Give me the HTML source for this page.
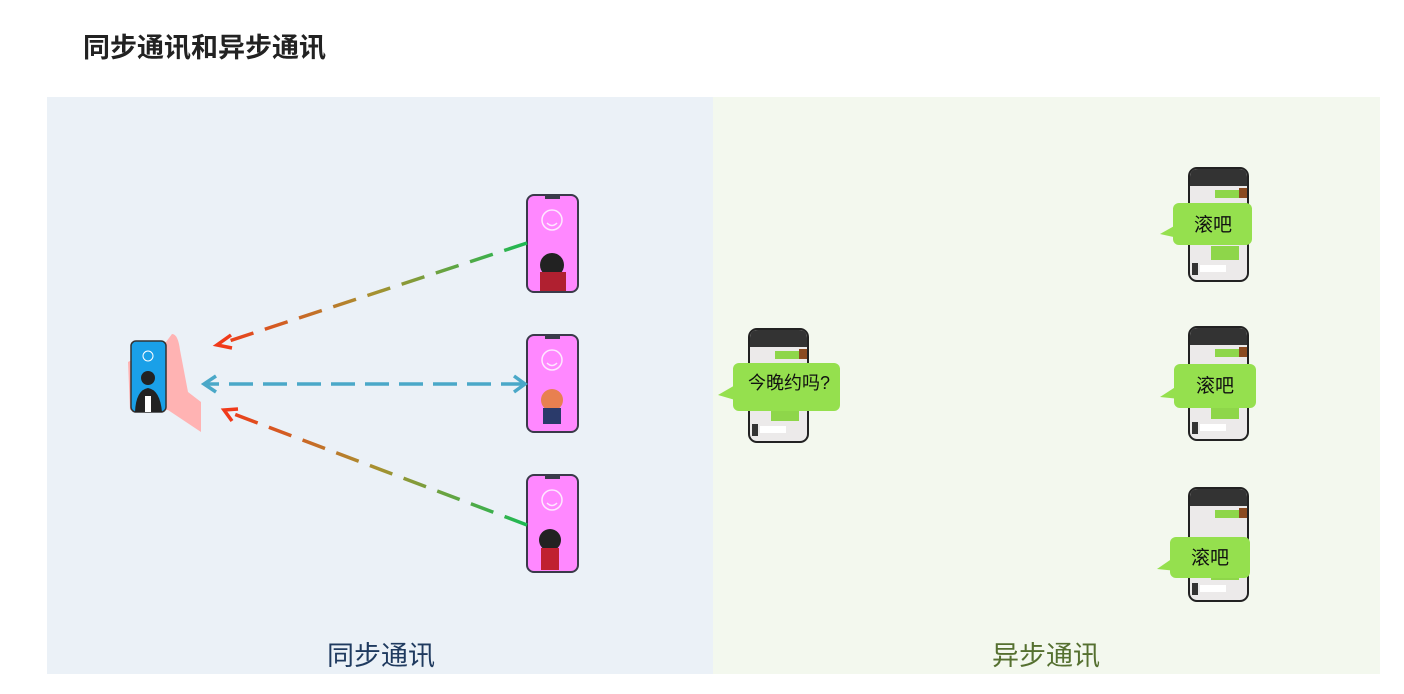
<!DOCTYPE html>
<html><head><meta charset="utf-8"><style>
html,body{margin:0;padding:0;background:#fff;width:1404px;height:694px;overflow:hidden}
svg{display:block}
text{font-family:"Liberation Sans","Noto Sans CJK SC",sans-serif}
</style></head><body>
<svg width="1404" height="694" viewBox="0 0 1404 694" xmlns="http://www.w3.org/2000/svg">
<defs>
<linearGradient id="g1" x1="527" y1="243" x2="216" y2="345" gradientUnits="userSpaceOnUse"><stop offset="0" stop-color="#1db954"/><stop offset="0.5" stop-color="#a89030"/><stop offset="1" stop-color="#f03a1a"/></linearGradient>
<linearGradient id="g2" x1="527" y1="525" x2="223" y2="410" gradientUnits="userSpaceOnUse"><stop offset="0" stop-color="#1db954"/><stop offset="0.5" stop-color="#a89030"/><stop offset="1" stop-color="#f03a1a"/></linearGradient>
<g id="pp">
<rect x="0" y="0" width="51" height="97" rx="7" fill="#ff88ff" stroke="#3a3a4a" stroke-width="2"/>
<rect x="18" y="0" width="15" height="4" fill="#3a3a4a"/>
<circle cx="25" cy="25" r="10" fill="none" stroke="#fff" stroke-width="1.5" opacity=".8"/>
<path d="M20 28 q5 5 10 0" fill="none" stroke="#fff" stroke-width="1.5" opacity=".8"/>
</g>
<g id="cp">
<rect x="0" y="0" width="59" height="113" rx="8" fill="#eceaea" stroke="#222" stroke-width="2"/>
<path d="M1 9 Q1 1 9 1 L50 1 Q58 1 58 9 L58 18 L1 18 Z" fill="#333"/>
<rect x="26" y="22" width="24" height="8" fill="#8ed64a"/>
<rect x="50" y="20" width="8" height="10" fill="#8a4a20"/>
<rect x="22" y="78" width="28" height="14" fill="#8ed64a"/>
<rect x="3" y="95" width="6" height="12" fill="#333"/>
<rect x="11" y="97" width="26" height="7" fill="#fff"/>
</g>
</defs>
<rect x="47" y="97" width="666" height="577" fill="#ebf1f7"/>
<rect x="713" y="97" width="667" height="577" fill="#f3f8ee"/>
<text x="83" y="57" font-size="27" font-weight="bold" fill="#222">同步通讯和异步通讯</text>

<!-- hand + blue phone -->
<path d="M166 342 L172 334 Q178 334 180 350 L188 392 L201 402 L201 432 L168 410 L130 410 L128 362 Z" fill="#ffb3b3"/>
<rect x="131" y="341" width="35" height="71" rx="5" fill="#1aa0e8" stroke="#333" stroke-width="1.5"/>
<circle cx="148" cy="356" r="5" fill="none" stroke="#fff" stroke-width="1"/>
<circle cx="148" cy="378" r="7" fill="#222"/>
<path d="M135 412 Q136 390 148 388 Q160 390 162 412 Z" fill="#222"/>
<rect x="145" y="396" width="6" height="16" fill="#fff"/>

<use href="#pp" x="527" y="195"/>
<use href="#pp" x="527" y="335"/>
<use href="#pp" x="527" y="475"/>
<circle cx="552" cy="265" r="12" fill="#222"/><rect x="540" y="272" width="26" height="19" fill="#b02030"/>
<circle cx="552" cy="400" r="11" fill="#e88050"/><rect x="543" y="408" width="18" height="16" fill="#2a3a6a"/>
<circle cx="550" cy="540" r="11" fill="#222"/><rect x="541" y="548" width="18" height="22" fill="#c02030"/>

<!-- arrows -->
<g fill="none" stroke-width="3.5" stroke-linecap="butt">
<path d="M527 243 L220 344" stroke="url(#g1)" stroke-dasharray="24 12"/>
<path d="M231 335 L217 345 L232 348" stroke="#f03a1a"/>
<path d="M525 384 L205 384" stroke="#4aa8c8" stroke-dasharray="24 10"/>
<path d="M216 376 L204 384 L216 392 M514 376 L525 384 L514 392" stroke="#4aa8c8"/>
<path d="M527 525 L226 411" stroke="url(#g2)" stroke-dasharray="24 12"/>
<path d="M238 409 L224 410 L232 421" stroke="#f03a1a"/>
</g>

<!-- chat phones -->
<use href="#cp" x="1189" y="168"/>
<use href="#cp" x="1189" y="327"/>
<use href="#cp" x="1189" y="488"/>
<use href="#cp" x="749" y="329"/>
<g fill="#95e04e">
<rect x="1173" y="203" width="79" height="42" rx="6"/><path d="M1176 225 L1160 234 L1178 238 Z"/>
<rect x="1174" y="364" width="82" height="44" rx="6"/><path d="M1177 386 L1160 397 L1180 399 Z"/>
<rect x="1170" y="537" width="80" height="41" rx="6"/><path d="M1173 558 L1157 569 L1177 571 Z"/>
<rect x="733" y="363" width="107" height="48" rx="6"/><path d="M737 384 L718 395 L742 402 Z"/>
</g>
<g font-size="19" fill="#111">
<text x="1194" y="231">滚吧</text>
<text x="1196" y="392">滚吧</text>
<text x="1191" y="564">滚吧</text>
<text x="748" y="389" font-size="18">今晚约吗?</text>
</g>
<text x="327" y="665" font-size="27" fill="#1f3a5f">同步通讯</text>
<text x="992" y="665" font-size="27" fill="#557030">异步通讯</text>
</svg>
</body></html>
